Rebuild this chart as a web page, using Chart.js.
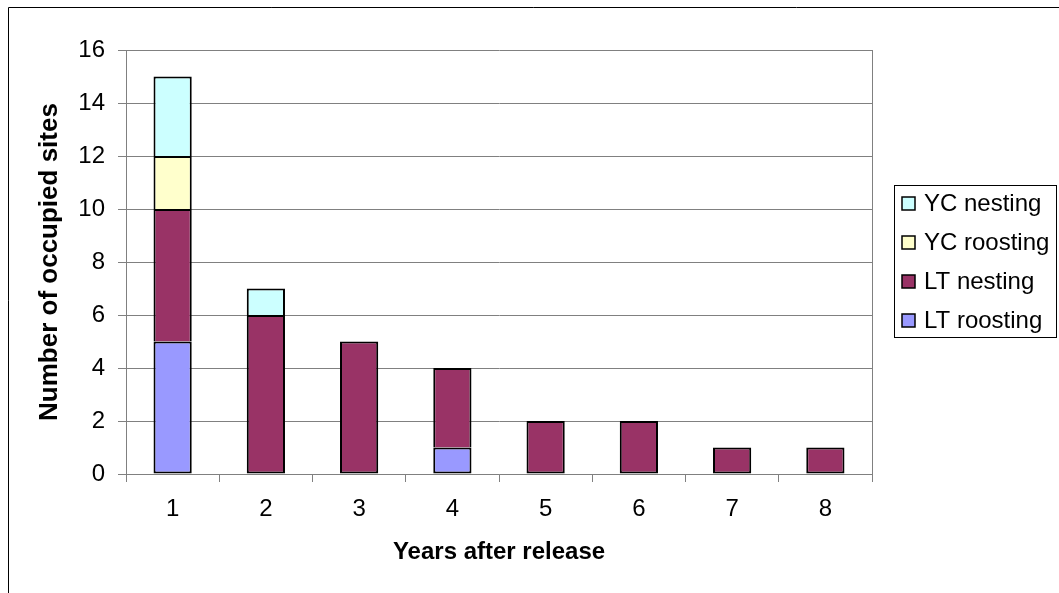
<!DOCTYPE html>
<html><head><meta charset="utf-8">
<script src="https://cdn.jsdelivr.net/npm/chart.js@4/dist/chart.umd.min.js"></script>
<style>html,body{margin:0;padding:0;background:#fff;} #wrap{width:1059px;height:593px;position:relative;}</style>
</head><body><div id="wrap"><canvas id="c" width="1059" height="593"></canvas></div>
<script>
const categories = ['1','2','3','4','5','6','7','8'];
const ltRoosting = [5,0,0,1,0,0,0,0];
const ltNesting  = [5,6,5,3,2,2,1,1];
const ycRoosting = [2,0,0,0,0,0,0,0];
const ycNesting  = [3,1,0,0,0,0,0,0];
const yMin = 0, yMax = 16, yStep = 2;
const xTitle = 'Years after release';
const yTitle = 'Number of occupied sites';

const FONT = '"Liberation Sans", Arial, sans-serif';
const bw = ctx => (ctx.raw ? 2 : 0);
const skip = ctx => {
  let below = 0;
  for (let i = 0; i < ctx.datasetIndex; i++) below += ctx.chart.data.datasets[i].data[ctx.dataIndex] || 0;
  return below > 0 ? 'start' : false;
};

const frameLegend = {
  id: 'frameLegend',
  afterDraw(chart) {
    const ctx = chart.ctx, a = chart.chartArea;
    ctx.save();
    ctx.lineWidth = 1;
    ctx.strokeStyle = '#000';
    ctx.beginPath(); ctx.moveTo(8.5, 593); ctx.lineTo(8.5, 7.5); ctx.lineTo(1059, 7.5); ctx.stroke();
    ctx.strokeStyle = '#808080';
    ctx.beginPath(); ctx.moveTo(Math.round(a.right) + 0.5, a.top); ctx.lineTo(Math.round(a.right) + 0.5, a.bottom); ctx.stroke();
    // legend
    const lx = 894.5, ly = 185.5, lw = 162, lh = 152;
    ctx.strokeStyle = '#000';
    ctx.strokeRect(lx, ly, lw, lh);
    ctx.font = '24px ' + FONT;
    ctx.textBaseline = 'middle';
    ctx.textAlign = 'left';
    const ds = chart.data.datasets.slice().reverse();
    ds.forEach((d, i) => {
      const cy = 203.5 + i * 39;
      ctx.fillStyle = d.backgroundColor;
      ctx.fillRect(902, cy - 6.5, 13, 13);
      ctx.lineWidth = 1.5; ctx.strokeStyle = '#000';
      ctx.strokeRect(902, cy - 6.5, 13, 13);
      ctx.fillStyle = '#000';
      ctx.fillText(d.label, 924, cy + 1);
    });
    ctx.restore();
  }
};

new Chart(document.getElementById('c'), {
  type: 'bar',
  data: {
    labels: categories,
    datasets: [
      { label: 'LT roosting', data: ltRoosting, backgroundColor: '#9999FF' },
      { label: 'LT nesting',  data: ltNesting,  backgroundColor: '#993366' },
      { label: 'YC roosting', data: ycRoosting, backgroundColor: '#FFFFCC' },
      { label: 'YC nesting',  data: ycNesting,  backgroundColor: '#CCFFFF' }
    ].map(d => Object.assign(d, { borderColor: '#000', borderWidth: bw, borderSkipped: skip, barPercentage: 0.41, categoryPercentage: 1 }))
  },
  options: {
    responsive: false,
    animation: false,
    devicePixelRatio: 1,
    layout: { padding: { top: 50, right: 187, bottom: 0, left: 0 } },
    plugins: { legend: { display: false }, tooltip: { enabled: false } },
    scales: {
      x: {
        stacked: true,
        afterFit: s => { s.height = 119; },
        grid: { display: true, drawOnChartArea: false, drawTicks: true, tickLength: 8, color: '#808080', offset: true },
        border: { color: '#808080', width: 1 },
        ticks: { color: '#000', font: { family: FONT, size: 24, lineHeight: 1.2 }, padding: 13, maxRotation: 0 },
        title: { display: true, text: xTitle, color: '#000', font: { family: FONT, size: 24, weight: 'bold', lineHeight: 1.2 }, padding: { top: 0, bottom: 26 } }
      },
      y: {
        stacked: true,
        min: yMin, max: yMax,
        afterFit: s => { s.width = 126; },
        grid: { color: '#808080', tickLength: 8, drawTicks: true },
        border: { color: '#808080', width: 1 },
        ticks: { stepSize: yStep, color: '#000', font: { family: FONT, size: 24, lineHeight: 1.2 }, padding: 13 },
        title: { display: true, text: yTitle, color: '#000', font: { family: FONT, size: 26, weight: 'bold', lineHeight: 1.2 }, padding: { top: 34, bottom: 0 } }
      }
    }
  },
  plugins: [frameLegend]
});
</script></body></html>
